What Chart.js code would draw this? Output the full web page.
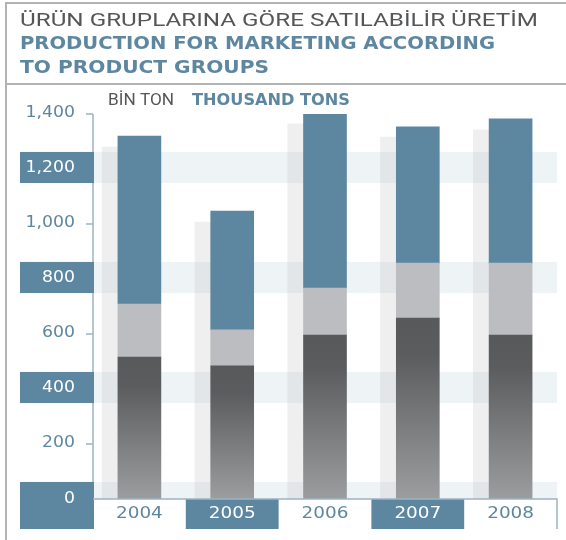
<!DOCTYPE html>
<html>
<head>
<meta charset="utf-8">
<script src="https://cdn.jsdelivr.net/npm/chart.js@4/dist/chart.umd.min.js"></script>
<style>
  html,body{margin:0;padding:0;background:#fff;}
  #wrap{position:relative;width:566px;height:540px;}
</style>
</head>
<body>
<div id="wrap"><canvas id="c" width="566" height="540"></canvas></div>
<script>
// ---- data (thousand tons) ----
const years = ['2004', '2005', '2006', '2007', '2008'];
const darkSeries  = [516, 484, 596, 658, 596];   // bottom (dark gradient) segment
const lightSeries = [193, 131, 171, 200, 262];   // middle (light grey) segment
const blueSeries  = [611, 432, 633, 495, 524];   // top (blue) segment
const backSeries  = [1280, 1007, 1364, 1316, 1342]; // pale bars behind
const yTickValues = [0, 200, 400, 600, 800, 1000, 1200, 1400];
const yTickLabels = ['0', '200', '400', '600', '800', '1,000', '1,200', '1,400'];
const boxedTicks  = [0, 400, 800, 1200];

const titleTR = 'ÜRÜN GRUPLARINA GÖRE SATILABİLİR ÜRETİM';
const titleEN1 = 'PRODUCTION FOR MARKETING ACCORDING';
const titleEN2 = 'TO PRODUCT GROUPS';
const unitTR = 'BİN TON';
const unitEN = 'THOUSAND TONS';

// ---- styles ----
const BLUE = '#5d87a1';
const LIGHT = '#bcbdc0';
const GREYTXT = '#555658';
const AXIS = '#9db3c3';
const FRAME = '#b3b3b3';
const LABEL_H = 30;

function fitText(ctx, text, x, y, width, font, color) {
  ctx.save();
  ctx.font = font;
  ctx.fillStyle = color;
  ctx.textAlign = 'left';
  ctx.textBaseline = 'alphabetic';
  const w = ctx.measureText(text).width;
  ctx.translate(x, y);
  ctx.scale(width / w, 1);
  ctx.fillText(text, 0, 0);
  ctx.restore();
}
function hText(ctx, text, x, y, align, font, color, hs) {
  ctx.save();
  ctx.font = font;
  ctx.fillStyle = color;
  ctx.textAlign = align;
  ctx.textBaseline = 'middle';
  ctx.translate(x, y);
  ctx.scale(hs, 1);
  ctx.fillText(text, 0, 0);
  ctx.restore();
}

const deco = {
  id: 'deco',
  beforeDatasetsDraw(chart) {
    const {ctx, chartArea: a, scales: {y}} = chart;
    ctx.save();
    ctx.beginPath();
    ctx.rect(a.left, a.top, a.right - a.left, a.bottom - a.top);
    ctx.clip();
    ctx.fillStyle = 'rgba(93,135,161,0.1)';
    boxedTicks.forEach(v => {
      const t = y.getPixelForValue(v + 62), b = y.getPixelForValue(v - 51);
      ctx.fillRect(a.left, t, a.right - a.left, b - t);
    });
    ctx.restore();
  },
  afterDraw(chart) {
    const {ctx, chartArea: a, scales: {x, y}} = chart;
    const W = chart.width;
    ctx.save();
    // frame
    ctx.strokeStyle = FRAME;
    ctx.lineWidth = 2;
    ctx.beginPath();
    ctx.moveTo(6, 540); ctx.lineTo(6, 3); ctx.lineTo(W, 3);
    ctx.moveTo(6, 84); ctx.lineTo(W, 84);
    ctx.stroke();
    // titles
    fitText(ctx, titleTR, 20, 26, 518, '400 19px Roboto', GREYTXT);
    fitText(ctx, titleEN1, 20, 49, 475, 'bold 18px "DejaVu Sans"', BLUE);
    fitText(ctx, titleEN2, 20, 73, 249, 'bold 18px "DejaVu Sans"', BLUE);
    fitText(ctx, unitTR, 108, 105, 66, '16px Roboto', GREYTXT);
    fitText(ctx, unitEN, 192, 105, 158, 'bold 15px "DejaVu Sans"', BLUE);

    const tickFont = '16px "DejaVu Sans"';
    // y axis line
    ctx.strokeStyle = AXIS;
    ctx.lineWidth = 1.5;
    ctx.beginPath();
    ctx.moveTo(a.left, y.getPixelForValue(yTickValues[yTickValues.length - 1]));
    ctx.lineTo(a.left, a.bottom);
    ctx.stroke();
    // y ticks
    yTickValues.forEach((v, i) => {
      const py = y.getPixelForValue(v);
      if (boxedTicks.includes(v)) {
        const t = y.getPixelForValue(v + 62);
        const b = v === 0 ? a.bottom + LABEL_H : y.getPixelForValue(v - 51);
        ctx.fillStyle = BLUE;
        ctx.fillRect(20, t, a.left + 1 - 20, b - t);
        hText(ctx, yTickLabels[i], 75, v === 0 ? py : py - 1.5, 'right', tickFont, '#ffffff', 1.08);
      } else {
        ctx.strokeStyle = AXIS;
        ctx.lineWidth = 1.5;
        ctx.beginPath();
        ctx.moveTo(86, py); ctx.lineTo(a.left, py);
        ctx.stroke();
        hText(ctx, yTickLabels[i], 75, py - 1, 'right', tickFont, BLUE, 1.08);
      }
    });
    // x labels
    const cw = x.getPixelForValue(1) - x.getPixelForValue(0);
    years.forEach((yr, i) => {
      const cx = x.getPixelForValue(i);
      let col = BLUE;
      if (i % 2 === 1) {
        ctx.fillStyle = BLUE;
        ctx.fillRect(cx - cw / 2, a.bottom, cw, LABEL_H);
        col = '#ffffff';
      }
      hText(ctx, yr, cx, a.bottom + LABEL_H / 2, 'center', tickFont, col, 1.15);
    });
    // x axis line
    ctx.strokeStyle = AXIS;
    ctx.lineWidth = 1.5;
    ctx.beginPath();
    ctx.moveTo(a.left, a.bottom);
    ctx.lineTo(a.right, a.bottom);
    ctx.lineTo(a.right, a.bottom + LABEL_H);
    ctx.stroke();
    ctx.restore();
  }
};

function darkFill(c) {
  const chart = c.chart;
  const a = chart.chartArea;
  if (!a || c.type !== 'data' || !c.parsed) return '#6a6b6d';
  const top = chart.scales.y.getPixelForValue(c.parsed.y);
  const g = chart.ctx.createLinearGradient(0, top, 0, a.bottom);
  g.addColorStop(0, '#58595b');
  g.addColorStop(0.2, '#5b5c5e');
  g.addColorStop(1, '#9c9d9f');
  return g;
}

new Chart(document.getElementById('c'), {
  type: 'bar',
  data: {
    labels: years,
    datasets: [
      {label: 'dark', data: darkSeries, backgroundColor: darkFill, stack: 'main', xAxisID: 'x', barThickness: 43, grouped: false},
      {label: 'light', data: lightSeries, backgroundColor: LIGHT, stack: 'main', xAxisID: 'x', barThickness: 43, grouped: false},
      {label: 'blue', data: blueSeries, backgroundColor: BLUE, stack: 'main', xAxisID: 'x', barThickness: 43, grouped: false},
      {label: 'back', data: backSeries.map((v, i) => ({x: i, y: v})), backgroundColor: 'rgba(191,187,187,0.235)',
       stack: 'back', xAxisID: 'xb', barThickness: 43, grouped: false}
    ]
  },
  options: {
    responsive: false,
    animation: false,
    layout: {padding: {left: 93, right: 9, top: 114, bottom: 41}},
    plugins: {legend: {display: false}, title: {display: false}, tooltip: {enabled: false}},
    scales: {
      x: {display: false, stacked: true},
      xb: {type: 'linear', display: false, offset: false, min: -0.5 + 0.17, max: 4.5 + 0.17},
      y: {display: false, stacked: true, min: 0, max: 1400}
    }
  },
  plugins: [deco]
});
</script>
</body>
</html>
